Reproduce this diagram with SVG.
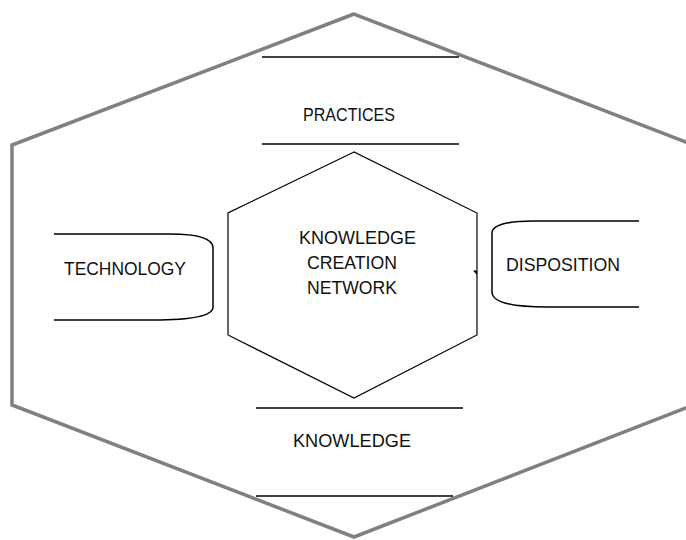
<svg xmlns="http://www.w3.org/2000/svg" width="686" height="540" viewBox="0 0 686 540">
<style>
.outer{fill:none;stroke:#808080;stroke-width:3.5;stroke-linejoin:miter}
.inner{fill:none;stroke:#000;stroke-width:1.2}
.ln{fill:none;stroke:#000;stroke-width:1.5}
.lbl{font-family:"Liberation Sans",Arial,sans-serif;font-size:18px;fill:#111}
</style>
<rect width="686" height="540" fill="#fff"/>
<g id="outer-hexagon">
<polygon class="outer" points="354,14 12,145 12,405 354,537 696,404 696,146"/>
</g>
<g id="practices">
<line class="ln" x1="262" y1="57" x2="459" y2="57"/>
<line class="ln" x1="262" y1="144" x2="459" y2="144"/>
<text class="lbl" x="303" y="121" textLength="92" lengthAdjust="spacingAndGlyphs">PRACTICES</text>
</g>
<g id="knowledge-creation-network">
<polygon class="inner" points="354,152 228,213 228,335 354,398 477,335 477,213"/>
<text class="lbl" x="299" y="244" textLength="117" lengthAdjust="spacingAndGlyphs">KNOWLEDGE</text>
<text class="lbl" x="307" y="269" textLength="90" lengthAdjust="spacingAndGlyphs">CREATION</text>
<text class="lbl" x="307" y="294" textLength="90" lengthAdjust="spacingAndGlyphs">NETWORK</text>
</g>
<g id="technology">
<path class="ln" d="M54,234 H170 C200,234 213,239 213,248 V307 C213,315 195,320 153,320 H54"/>
<text class="lbl" x="64" y="275" textLength="122" lengthAdjust="spacingAndGlyphs">TECHNOLOGY</text>
</g>
<g id="disposition">
<path class="ln" d="M639,221 H533 C505,221 492,226 492,233 V292 C492,300 505,307 547,307 H639"/>
<text class="lbl" x="506" y="271" textLength="114" lengthAdjust="spacingAndGlyphs">DISPOSITION</text>
</g>
<g id="knowledge">
<line class="ln" x1="256" y1="408" x2="463" y2="408"/>
<line class="ln" x1="256" y1="496" x2="453" y2="496"/>
<text class="lbl" x="293" y="447" textLength="118" lengthAdjust="spacingAndGlyphs">KNOWLEDGE</text>
</g>
<g id="connectors">
<polygon points="473,270.5 477,270.5 477,275" fill="#000"/>
</g>
</svg>
